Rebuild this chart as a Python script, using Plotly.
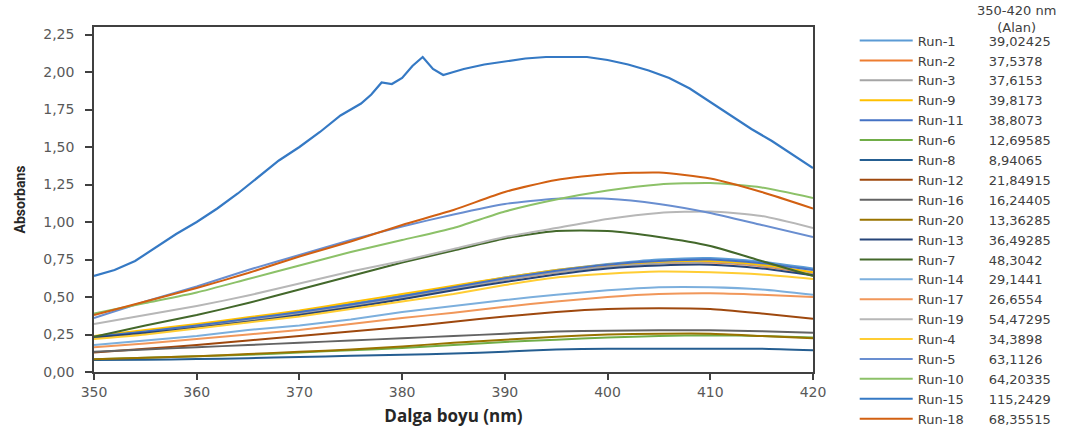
import plotly.graph_objects as go

# ---------------- data ----------------
wavelength = [350, 355, 360, 365, 370, 375, 380, 385, 390, 395, 400, 405, 410, 415, 420]

run1 = [0.235, 0.27, 0.31, 0.355, 0.40, 0.455, 0.51, 0.57, 0.63, 0.68, 0.72, 0.75, 0.76, 0.735, 0.69]
run2 = [0.225, 0.26, 0.30, 0.345, 0.39, 0.44, 0.495, 0.555, 0.615, 0.665, 0.705, 0.725, 0.73, 0.705, 0.655]
run3 = [0.23, 0.26, 0.30, 0.345, 0.39, 0.44, 0.495, 0.555, 0.615, 0.665, 0.70, 0.725, 0.735, 0.71, 0.66]
run9 = [0.24, 0.28, 0.32, 0.365, 0.41, 0.465, 0.52, 0.575, 0.63, 0.68, 0.715, 0.735, 0.74, 0.715, 0.665]
run11 = [0.235, 0.27, 0.31, 0.355, 0.40, 0.45, 0.505, 0.565, 0.625, 0.675, 0.715, 0.74, 0.75, 0.725, 0.68]
run6 = [0.085, 0.095, 0.105, 0.115, 0.13, 0.145, 0.16, 0.18, 0.20, 0.215, 0.23, 0.24, 0.245, 0.24, 0.23]
run8 = [0.08, 0.082, 0.086, 0.092, 0.10, 0.108, 0.115, 0.123, 0.135, 0.15, 0.155, 0.155, 0.155, 0.155, 0.145]
run12 = [0.13, 0.155, 0.18, 0.21, 0.24, 0.27, 0.30, 0.335, 0.37, 0.40, 0.42, 0.425, 0.42, 0.39, 0.355]
run16 = [0.135, 0.15, 0.165, 0.18, 0.195, 0.21, 0.225, 0.24, 0.255, 0.27, 0.275, 0.278, 0.278, 0.272, 0.262]
run20 = [0.085, 0.095, 0.105, 0.12, 0.135, 0.15, 0.17, 0.195, 0.215, 0.235, 0.25, 0.255, 0.255, 0.24, 0.225]
run13 = [0.23, 0.26, 0.295, 0.335, 0.38, 0.43, 0.485, 0.545, 0.60, 0.65, 0.69, 0.71, 0.715, 0.69, 0.645]
run7 = [0.235, 0.31, 0.38, 0.46, 0.55, 0.64, 0.73, 0.81, 0.89, 0.94, 0.94, 0.90, 0.84, 0.74, 0.64]
run14 = [0.18, 0.21, 0.24, 0.28, 0.31, 0.35, 0.40, 0.44, 0.48, 0.515, 0.545, 0.565, 0.565, 0.55, 0.515]
run17 = [0.165, 0.19, 0.22, 0.25, 0.28, 0.32, 0.36, 0.395, 0.435, 0.47, 0.50, 0.52, 0.525, 0.515, 0.50]
run19 = [0.32, 0.38, 0.44, 0.51, 0.59, 0.67, 0.74, 0.82, 0.90, 0.96, 1.02, 1.06, 1.07, 1.04, 0.96]
run4 = [0.22, 0.25, 0.29, 0.33, 0.37, 0.42, 0.47, 0.52, 0.58, 0.63, 0.655, 0.67, 0.665, 0.65, 0.62]
run5 = [0.36, 0.47, 0.57, 0.68, 0.78, 0.88, 0.97, 1.05, 1.12, 1.155, 1.155, 1.12, 1.06, 0.98, 0.90]
run10 = [0.39, 0.46, 0.53, 0.62, 0.71, 0.80, 0.88, 0.96, 1.07, 1.15, 1.21, 1.25, 1.26, 1.23, 1.16]
run18 = [0.38, 0.47, 0.56, 0.66, 0.77, 0.87, 0.98, 1.08, 1.20, 1.28, 1.32, 1.33, 1.29, 1.20, 1.09]

wavelength_run15 = [350, 352, 354, 356, 358, 360, 362, 364, 366, 368, 370, 372, 374, 376, 377,
                    378, 379, 380, 381, 382, 383, 384, 385, 386, 388, 390, 392, 394, 396, 398,
                    400, 402, 404, 406, 408, 410, 412, 414, 416, 418, 420]
run15 = [0.64, 0.68, 0.74, 0.83, 0.92, 1.00, 1.09, 1.19, 1.30, 1.41, 1.50, 1.60, 1.71, 1.79, 1.85,
         1.93, 1.92, 1.96, 2.04, 2.10, 2.02, 1.98, 2.00, 2.02, 2.05, 2.07, 2.09, 2.10, 2.10, 2.10,
         2.08, 2.05, 2.01, 1.96, 1.89, 1.80, 1.71, 1.62, 1.54, 1.45, 1.36]

run_names = ["Run-1", "Run-2", "Run-3", "Run-9", "Run-11", "Run-6", "Run-8", "Run-12", "Run-16", "Run-20",
             "Run-13", "Run-7", "Run-14", "Run-17", "Run-19", "Run-4", "Run-5", "Run-10", "Run-15", "Run-18"]
area_labels = ["39,02425", "37,5378", "37,6153", "39,8173", "38,8073", "12,69585", "8,94065", "21,84915",
               "16,24405", "13,36285", "36,49285", "48,3042", "29,1441", "26,6554", "54,47295", "34,3898",
               "63,1126", "64,20335", "115,2429", "68,35515"]
run_values = [run1, run2, run3, run9, run11, run6, run8, run12, run16, run20,
              run13, run7, run14, run17, run19, run4, run5, run10, run15, run18]
run_x = [wavelength] * 18 + [wavelength_run15, wavelength]

x_ticks = [350, 360, 370, 380, 390, 400, 410, 420]
y_ticks = [0, 0.25, 0.5, 0.75, 1.0, 1.25, 1.5, 1.75, 2.0, 2.25]
y_tick_labels = ["0,00", "0,25", "0,50", "0,75", "1,00", "1,25", "1,50", "1,75", "2,00", "2,25"]

# ---------------- style ----------------
colors = ["#5B9BD5", "#ED7D31", "#A5A5A5", "#FFC000", "#4472C4", "#70AD47", "#255E91", "#9E480E",
          "#636363", "#997300", "#264478", "#43682B", "#7CAFDD", "#F1975A", "#B7B7B7", "#FFCD33",
          "#698ED0", "#8CC168", "#3579C4", "#D26012"]

fig = go.Figure()
NB = "\u00a0"
for name, area, xs, ys, col in zip(run_names, area_labels, run_x, run_values, colors):
    pad = 8 if len(name) == 5 else 6
    fig.add_trace(go.Scatter(
        x=xs, y=ys, mode="lines", name=name + NB * pad + area,
        line=dict(color=col, width=2.2 if name == "Run-15" else 2,
                  shape="linear" if name == "Run-15" else "spline", smoothing=0.6),
    ))

axis_col = "#404040"
tick_font = dict(family="DejaVu Sans", size=14, color="#595959")

fig.update_layout(
    width=1079, height=432,
    margin=dict(l=93.5, r=266, t=27, b=60, autoexpand=False),
    paper_bgcolor="white", plot_bgcolor="white",
    showlegend=True,
    legend=dict(x=1.058, y=1.004, xanchor="left", yanchor="top",
                font=dict(family="DejaVu Sans", size=13, color="#404040"),
                itemwidth=53, tracegroupgap=0, bgcolor="rgba(0,0,0,0)", maxheight=600),
    xaxis=dict(range=[350, 420], tickvals=x_ticks, ticktext=[str(v) for v in x_ticks],
               showgrid=False, zeroline=False, showline=True, linecolor=axis_col, linewidth=1.5,
               mirror=True, ticks="outside", ticklen=6, tickcolor=axis_col, tickwidth=1.5,
               tickfont=tick_font,
               title=dict(text="<b>Dalga boyu (nm)</b>", standoff=12,
                          font=dict(family="Open Sans", size=17, color="#262626"))),
    yaxis=dict(range=[0, 2.30], tickvals=y_ticks, ticktext=y_tick_labels,
               showgrid=False, zeroline=False, showline=True, linecolor=axis_col, linewidth=1.5,
               mirror=True, ticks="outside", ticklen=7, tickcolor=axis_col, tickwidth=1.5,
               tickfont=tick_font, ticklabelstandoff=8,
               title=dict(text="<b>Absorbans</b>", standoff=14,
                          font=dict(family="Liberation Sans Narrow, Roboto, sans-serif", size=14,
                                    color="#262626"))),
    annotations=[dict(text="350-420 nm<br>(Alan)", xref="paper", yref="paper",
                      x=1.283, y=1.075, xanchor="center", yanchor="top", showarrow=False,
                      font=dict(family="DejaVu Sans", size=13, color="#404040"))],
)

fig.write_html("out.html")
